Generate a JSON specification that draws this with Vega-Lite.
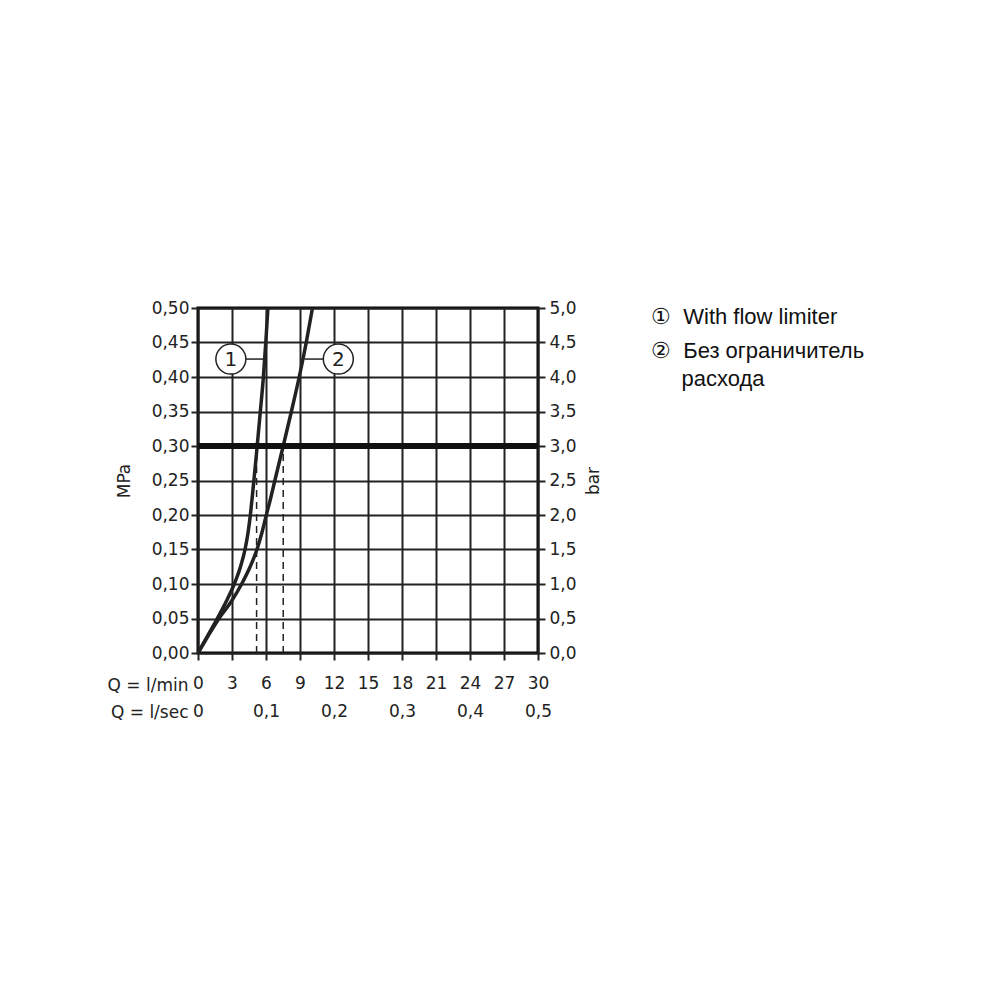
{
  "$schema": "https://vega.github.io/schema/vega-lite/v6.json",
  "width": 340,
  "height": 345,
  "autosize": {"type": "none"},
  "padding": {"left": 198, "top": 308, "right": 462, "bottom": 347},
  "background": "white",
  "config": {
    "view": {"stroke": "black", "strokeWidth": 3},
    "font": "DejaVu Sans",
    "axis": {
      "labelFont": "DejaVu Sans",
      "titleFont": "DejaVu Sans",
      "labelFontSize": 17,
      "titleFontSize": 17,
      "titleFontWeight": "normal",
      "labelColor": "#222",
      "titleColor": "#222",
      "tickColor": "#222",
      "tickWidth": 2,
      "tickSize": 7,
      "domain": false,
      "gridColor": "#222",
      "gridWidth": 2,
      "gridOpacity": 1,
      "labelFlush": false,
      "labelOverlap": false
    }
  },
  "datasets": {
    "curves": [
      {"curve": "1", "q": 0, "p": 0},
      {"curve": "1", "q": 0.85, "p": 0.025},
      {"curve": "1", "q": 1.7, "p": 0.05},
      {"curve": "1", "q": 2.5, "p": 0.075},
      {"curve": "1", "q": 3.2, "p": 0.1},
      {"curve": "1", "q": 3.75, "p": 0.125},
      {"curve": "1", "q": 4.15, "p": 0.15},
      {"curve": "1", "q": 4.42, "p": 0.175},
      {"curve": "1", "q": 4.62, "p": 0.2},
      {"curve": "1", "q": 4.78, "p": 0.225},
      {"curve": "1", "q": 4.93, "p": 0.25},
      {"curve": "1", "q": 5.08, "p": 0.275},
      {"curve": "1", "q": 5.22, "p": 0.3},
      {"curve": "1", "q": 5.5, "p": 0.35},
      {"curve": "1", "q": 5.77, "p": 0.4},
      {"curve": "1", "q": 5.98, "p": 0.45},
      {"curve": "1", "q": 6.17, "p": 0.5},
      {"curve": "2", "q": 0, "p": 0},
      {"curve": "2", "q": 0.9, "p": 0.025},
      {"curve": "2", "q": 1.85, "p": 0.05},
      {"curve": "2", "q": 2.95, "p": 0.075},
      {"curve": "2", "q": 3.85, "p": 0.1},
      {"curve": "2", "q": 4.6, "p": 0.125},
      {"curve": "2", "q": 5.2, "p": 0.15},
      {"curve": "2", "q": 5.65, "p": 0.175},
      {"curve": "2", "q": 6.03, "p": 0.2},
      {"curve": "2", "q": 6.42, "p": 0.225},
      {"curve": "2", "q": 6.78, "p": 0.25},
      {"curve": "2", "q": 7.15, "p": 0.275},
      {"curve": "2", "q": 7.52, "p": 0.3},
      {"curve": "2", "q": 8.24, "p": 0.35},
      {"curve": "2", "q": 8.93, "p": 0.4},
      {"curve": "2", "q": 9.55, "p": 0.45},
      {"curve": "2", "q": 10.1, "p": 0.5}
    ],
    "markers": [
      {"label": "1", "q": 2.9, "p": 0.426},
      {"label": "2", "q": 12.38, "p": 0.426}
    ],
    "leaders": [
      {"q": 4.2, "q2": 5.75, "p": 0.426},
      {"q": 9.4, "q2": 11.05, "p": 0.426}
    ],
    "drops": [
      {"q": 5.17, "p": 0, "p2": 0.293},
      {"q": 7.52, "p": 0, "p2": 0.293}
    ],
    "limit": [{"q": 0, "q2": 30, "p": 0.3}],
    "secondary": [
      {"lsec": 0, "bar": 0},
      {"lsec": 0.5, "bar": 5}
    ]
  },
  "layer": [
    {
      "encoding": {
        "x": {
          "field": "q", "type": "quantitative",
          "scale": {"domain": [0, 30], "nice": false, "zero": true},
          "axis": {
            "orient": "bottom",
            "values": [0, 3, 6, 9, 12, 15, 18, 21, 24, 27, 30],
            "grid": true,
            "labelPadding": 15,
            "title": "Q = l/min",
            "titleX": -10,
            "titleY": 37,
            "titleAlign": "right",
            "titleBaseline": "alphabetic",
            "titleAngle": 0
          }
        },
        "y": {
          "field": "p", "type": "quantitative",
          "scale": {"domain": [0, 0.5], "nice": false, "zero": true},
          "axis": {
            "orient": "left",
            "values": [0, 0.05, 0.1, 0.15, 0.2, 0.25, 0.3, 0.35, 0.4, 0.45, 0.5],
            "grid": true,
            "labelPadding": 2,
            "labelExpr": "replace(format(datum.value, '.2f'), '.', ',')",
            "title": "MPa",
            "titlePadding": 18
          }
        }
      },
      "layer": [
        {
          "data": {"name": "curves"},
          "mark": {"type": "line", "strokeWidth": 3.5, "interpolate": "monotone"},
          "encoding": {
            "order": {"field": "p", "type": "quantitative"},
            "color": {
              "field": "curve", "type": "nominal",
              "scale": {"domain": ["1", "2"], "range": ["#222", "#222"]},
              "legend": {
                "orient": "none",
                "legendX": 431,
                "legendY": -2,
                "title": null,
                "symbolSize": 0,
                "symbolOpacity": 0,
                "symbolStrokeWidth": 0,
                "labelOffset": 0,
                "labelFont": "Liberation Sans",
                "labelFontSize": 22,
                "labelColor": "#111",
                "labelLimit": 0,
                "rowPadding": 12,
                "labelExpr": "datum.label == '1' ? '\u2460\u00a0\u00a0With flow limiter' : ['\u2461\u00a0\u00a0\u0411\u0435\u0437 \u043e\u0433\u0440\u0430\u043d\u0438\u0447\u0438\u0442\u0435\u043b\u044c', '\u200b\u00a0\u00a0\u00a0\u00a0\u00a0\u0440\u0430\u0441\u0445\u043e\u0434\u0430']",
                "encode": {"labels": {"update": {"lineHeight": {"value": 28}}}}
              }
            }
          }
        },
        {
          "data": {"name": "limit"},
          "mark": {"type": "rule", "strokeWidth": 6, "color": "#111"},
          "encoding": {"x2": {"field": "q2"}}
        },
        {
          "data": {"name": "drops"},
          "mark": {"type": "rule", "strokeWidth": 1.5, "strokeDash": [7, 5], "color": "#222"},
          "encoding": {"y2": {"field": "p2"}}
        },
        {
          "data": {"name": "leaders"},
          "mark": {"type": "rule", "strokeWidth": 1.5, "color": "#222"},
          "encoding": {"x2": {"field": "q2"}}
        },
        {
          "data": {"name": "markers"},
          "mark": {"type": "point", "shape": "circle", "size": 900, "filled": false, "fill": "white", "fillOpacity": 1, "stroke": "#222", "strokeWidth": 1.5, "opacity": 1}
        },
        {
          "data": {"name": "markers"},
          "mark": {"type": "text", "font": "DejaVu Sans", "fontSize": 20, "color": "#222", "align": "center", "baseline": "middle", "dy": 1},
          "encoding": {"text": {"field": "label"}}
        }
      ]
    },
    {
      "data": {"name": "secondary"},
      "mark": {"type": "point", "opacity": 0},
      "encoding": {
        "x": {
          "field": "lsec", "type": "quantitative",
          "scale": {"domain": [0, 0.5], "nice": false},
          "axis": {
            "orient": "bottom",
            "values": [0, 0.1, 0.2, 0.3, 0.4, 0.5],
            "grid": false,
            "ticks": false,
            "labelPadding": 50,
            "labelExpr": "datum.value == 0 ? '0' : replace(format(datum.value, '.1f'), '.', ',')",
            "title": "Q = l/sec",
            "titleX": -10,
            "titleY": 64,
            "titleAlign": "right",
            "titleBaseline": "alphabetic",
            "titleAngle": 0
          }
        },
        "y": {
          "field": "bar", "type": "quantitative",
          "scale": {"domain": [0, 5], "nice": false},
          "axis": {
            "orient": "right",
            "values": [0, 0.5, 1, 1.5, 2, 2.5, 3, 3.5, 4, 4.5, 5],
            "grid": false,
            "labelPadding": 4,
            "labelExpr": "replace(format(datum.value, '.1f'), '.', ',')",
            "title": "bar",
            "titleAngle": -90,
            "titlePadding": 26
          }
        }
      }
    }
  ],
  "resolve": {"scale": {"x": "independent", "y": "independent"}}
}
